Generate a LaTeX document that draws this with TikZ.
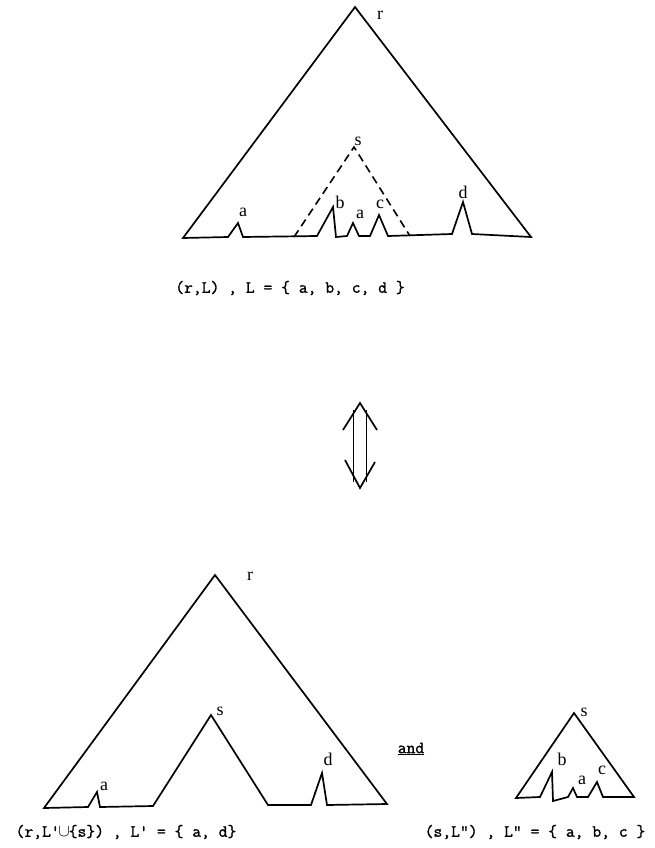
\documentclass[tikz,border=0pt]{standalone}
\usepackage{fontspec}
\setmainfont{Liberation Serif}
\newfontfamily\capfont{Latin Modern Mono}[FakeBold=1.3]
\usetikzlibrary{positioning}

\begin{document}
\begin{tikzpicture}[
    x=1bp, y=-1bp,
    tree/.style={line width=1.7bp, line join=miter},
    dashtree/.style={line width=1.6bp, dash pattern=on 8bp off 5bp},
    lbl/.style={font=\fontsize{18}{18}\selectfont, inner sep=0pt},
    captxt/.style={font=\capfont\fontsize{17.2}{18}\selectfont, inner sep=0pt},
]
\useasboundingbox (0,0) rectangle (655,848);

% (r,L) tree
\coordinate (r1) at (355,7);
\coordinate (s1) at (354,147);
\draw[tree] (183,238) -- (r1) -- (531,237) -- (472,234) -- (463,202) -- (452,234)
    -- (388,236) -- (379,215) -- (370,236) -- (359,236) -- (353,223) -- (347,236)
    -- (336,237) -- (333,207) -- (317,236) -- (243,237) -- (238,223) -- (228,237) -- cycle;
\draw[dashtree] (294,237) -- (s1) -- (410,236);
\node[lbl] (lr1) at (380,15) {r};
\node[lbl] (ls1) at (358,141) {s};
\node[lbl] (la1) at (243,212) {a};
\node[lbl] (lb1) at (340,202) {b};
\node[lbl] (la2) at (360,214) {a};
\node[lbl] (lc1) at (380,204) {c};
\node[lbl] (ld1) at (463,192) {d};
\node[captxt] (cap1) at (290,288) {(r,L) , L = \{ a, b, c, d \}};

% equivalence arrow
\coordinate (up) at (360,403);
\coordinate (dn) at (360,488);
\draw[tree] ([xshift=-6.5bp,yshift=-7bp]up) -- ([xshift=-6.5bp,yshift=6bp]dn);
\draw[tree] ([xshift=6.5bp,yshift=-7bp]up) -- ([xshift=6.5bp,yshift=6bp]dn);
\draw[tree] ([xshift=-17bp,yshift=-27bp]up) -- (up) -- ([xshift=17bp,yshift=-27bp]up);
\draw[tree] ([xshift=-15bp,yshift=28bp]dn) -- (dn) -- ([xshift=15bp,yshift=26bp]dn);

% (r,L'u{s}) tree
\coordinate (r2) at (215,575);
\coordinate (s2) at (211,715);
\draw[tree] (44,808) -- (r2) -- (387,804) -- (327,805) -- (322,773) -- (311,805)
    -- (268,805) -- (s2) -- (153,806) -- (100,807) -- (97,792) -- (88,807) -- cycle;
\node[lbl] (lr2) at (250,576) {r};
\node[lbl] (ls2) at (220,711) {s};
\node[lbl] (la3) at (104,786) {a};
\node[lbl] (ld2) at (328,759) {d};
\node[captxt] (cap2) at (126,832) {(r,L'\makebox[9bp]{$\cup$}\{s\}) , L' = \{ a,  d\}};

\node[captxt] (and) at (411,749) {\underline{and}};

% (s,L") tree
\coordinate (s3) at (574,713);
\draw[tree] (516,798) -- (s3) -- (634,797) -- (603,797) -- (597,782) -- (588,797)
    -- (577,797) -- (573,788) -- (568,797) -- (553,801) -- (552,772) -- (540,797) -- cycle;
\node[lbl] (ls3) at (584,712) {s};
\node[lbl] (lb2) at (562,759) {b};
\node[lbl] (la4) at (582,780) {a};
\node[lbl] (lc2) at (602,770) {c};
\node[captxt] (cap3) at (535,832) {(s,L") , L" = \{ a, b, c \}};
\end{tikzpicture}
\end{document}
